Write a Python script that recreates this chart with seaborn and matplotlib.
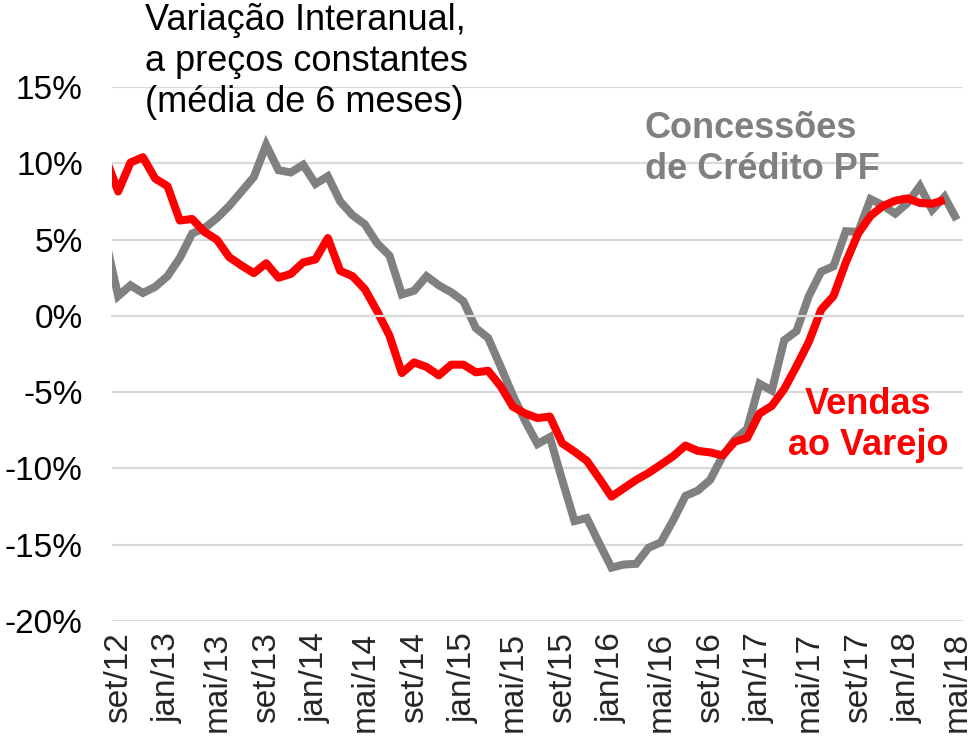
import numpy as np
import pandas as pd
import matplotlib
matplotlib.use("Agg")
import matplotlib.pyplot as plt
import seaborn as sns

# Tick labels (every 4 months, set/12 .. mai/18)
tick_labels = ["set/12", "jan/13", "mai/13", "set/13", "jan/14", "mai/14",
               "set/14", "jan/15", "mai/15", "set/15", "jan/16", "mai/16",
               "set/16", "jan/17", "mai/17", "set/17", "jan/18", "mai/18"]

# Monthly values, ago/12 .. mai/18 (% yoy, 6-month average)
credito = [4.9, 1.3, 2.0, 1.5, 1.9, 2.6, 3.8, 5.4, 5.75, 6.4, 7.2, 8.15, 9.1,
           11.2, 9.55, 9.4, 9.9, 8.65, 9.15, 7.5, 6.6, 6.0, 4.75, 3.95,
           1.4, 1.65, 2.6, 2.0, 1.55, 0.95, -0.8, -1.45, -3.3, -5.2, -6.9, -8.4,
           -7.95, -10.75, -13.45, -13.25, -14.9, -16.5, -16.3, -16.25, -15.2,
           -14.85, -13.4, -11.8, -11.45, -10.75, -9.2, -8.1, -7.4, -4.45, -4.9,
           -1.6, -1.0, 1.3, 2.9, 3.25, 5.55, 5.5, 7.65, 7.25, 6.7, 7.4, 8.5,
           6.95, 7.8, 6.3]

# ago/12 .. abr/18
vendas = [10.3, 8.15, 10.05, 10.4, 9.0, 8.5, 6.25, 6.35, 5.5, 5.0, 3.85, 3.3,
          2.8, 3.45, 2.5, 2.75, 3.5, 3.7, 5.1, 2.95, 2.6, 1.75, 0.3, -1.3,
          -3.75, -3.05, -3.35, -3.9, -3.2, -3.2, -3.7, -3.6, -4.6, -5.95, -6.4,
          -6.7, -6.6, -8.35, -8.9, -9.5, -10.65, -11.85, -11.3, -10.75, -10.3,
          -9.75, -9.2, -8.5, -8.85, -8.95, -9.15, -8.25, -8.0, -6.4, -5.9,
          -4.8, -3.3, -1.7, 0.4, 1.3, 3.5, 5.4, 6.55, 7.2, 7.55, 7.7, 7.4,
          7.35, 7.6]

GRAY = "#808080"
RED = "#FF0000"
GRID = "#D9D9D9"

sns.set_style("white")
plt.rcParams['font.family'] = ['Liberation Sans', 'DejaVu Sans']

W, H = 976, 741
fig = plt.figure(figsize=(W / 100, H / 100), dpi=100)
ax = fig.add_axes([112 / W, 1 - 621 / H, (963 - 112) / W, (621 - 87) / H])

mes = np.arange(len(credito)) - 1
df = pd.DataFrame({
    "mes": mes,
    "credito": credito,
    "vendas": vendas + [np.nan] * (len(credito) - len(vendas)),
})

sns.lineplot(data=df, x="mes", y="credito", color=GRAY, lw=5.8, ax=ax,
             solid_capstyle="butt", solid_joinstyle="miter")
sns.lineplot(data=df, x="mes", y="vendas", color=RED, lw=5.8, ax=ax,
             solid_capstyle="butt", solid_joinstyle="round")

ax.set_xlim(-0.5, 68.5)
ax.set_ylim(-20, 15)
ax.set_xlabel("")
ax.set_ylabel("")

yt = list(range(-20, 16, 5))
ax.set_yticks(yt, [f"{v}%" for v in yt])
ax.yaxis.grid(True, color=GRID, lw=1.6)
ax.set_axisbelow(True)
ax.tick_params(axis="y", length=0, pad=21, labelsize=24, labelcolor="black")

for s in ["top", "right", "left"]:
    ax.spines[s].set_visible(False)
ax.spines["bottom"].set_position(("data", 0))
ax.spines["bottom"].set_color(GRID)
ax.spines["bottom"].set_linewidth(1.6)

ax.set_xticks(np.arange(-0.5, 68, 4))
ax.tick_params(axis="x", length=6, width=1.5, color=GRID, direction="out",
               labelbottom=False)

sec = ax.secondary_xaxis(0.0)
sec.set_xticks(np.arange(0, 69, 4), tick_labels)
sec.tick_params(length=0, pad=8, labelsize=24, rotation=90)
sec.spines["bottom"].set_visible(False)

fig.text(145 / W, 1 - 3 / H,
         "Variação Interanual,\na preços constantes\n(média de 6 meses)",
         ha="left", va="top", fontsize=26, linespacing=1.22, color="black")
fig.text(645 / W, 1 - 111 / H, "Concessões\nde Crédito PF",
         ha="left", va="top", fontsize=26, fontweight="bold",
         linespacing=1.22, color=GRAY)
fig.text(868 / W, 1 - 387 / H, "Vendas\nao Varejo",
         ha="center", va="top", fontsize=26, fontweight="bold",
         linespacing=1.22, color=RED)

fig.savefig("out.png", dpi=100)
